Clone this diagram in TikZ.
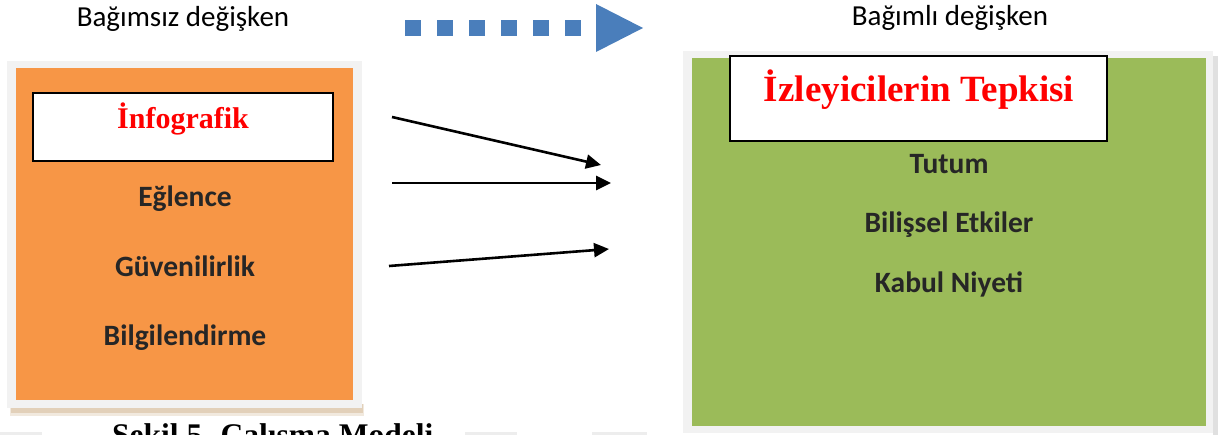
\documentclass[tikz,border=0pt]{standalone}
\usepackage{fontspec}
\usetikzlibrary{arrows.meta}
\newfontfamily\calib{Carlito}
\newfontfamily\timesf{Liberation Serif}
\definecolor{orangefill}{HTML}{F79646}
\definecolor{greenfill}{HTML}{9BBB59}
\definecolor{bluearrow}{HTML}{4A7EBB}
\definecolor{framegray}{HTML}{F2F2F2}
\definecolor{textdark}{HTML}{262626}
\definecolor{titlered}{HTML}{FF0000}
\definecolor{tanshadow}{HTML}{D8BFA0}
\tikzset{
  x=1pt, y=-1pt,
  frame/.style={fill=framegray, draw=none},
  item/.style={font=\calib\bfseries\fontsize{29.5}{33}\selectfont, text=textdark, anchor=base, inner sep=0pt},
  varlabel/.style={font=\calib\fontsize{29}{33}\selectfont, text=black, anchor=base, inner sep=0pt},
  headtext/.style={text=titlered, anchor=base, inner sep=0pt},
  link/.style={line width=2.6pt, -{Triangle[length=15pt,width=14pt]}},
  dotsq/.style={fill=bluearrow, draw=none},
  smudge/.style={fill=black!7, draw=none}
}
\begin{document}
\begin{tikzpicture}
\useasboundingbox (0,0) rectangle (1229,435);

% variable labels
\node[varlabel] (indep) at (183,27) {Bağımsız değişken};
\node[varlabel] (dep) at (950,26) {Bağımlı değişken};

% blue dotted direction arrow
\foreach \k in {0,...,5}
  \fill[dotsq] (405+32*\k,20) rectangle (421+32*\k,36);
\fill[bluearrow] (596,4) -- (643,28) -- (596,52) -- cycle;

% left box: independent variable
\fill[tanshadow, opacity=0.35] (10,404) rectangle (364,416);
\fill[tanshadow, opacity=0.6] (11,404) rectangle (363,413);
\fill[frame] (7,61) rectangle (362,408);
\fill[orangefill] (16,68) rectangle (353,400);
\draw[line width=1.3pt, fill=white] (33,93) rectangle (333,161);
\node[headtext, font=\timesf\bfseries\fontsize{30}{34}\selectfont] (info) at (183,129) {İnfografik};
\node[item] (eg) at (185,207) {Eğlence};
\node[item] (gu) at (185,277) {Güvenilirlik};
\node[item] (bi) at (185,346) {Bilgilendirme};

% right box: dependent variable
\fill[black!35, opacity=0.35] (1213,56) rectangle (1218,435);
\fill[frame] (683,51) rectangle (1213,433);
\fill[greenfill] (692,58) rectangle (1206,426);
\draw[line width=2pt, fill=white] (730,56) rectangle (1107,141);
\node[headtext, font=\timesf\bfseries\fontsize{37}{41}\selectfont] (tepki) at (919,102) {İzleyicilerin Tepkisi};
\node[item] (tu) at (949,174) {Tutum};
\node[item] (be) at (949,233) {Bilişsel Etkiler};
\node[item] (kn) at (949,293) {Kabul Niyeti};

% connectors between the two boxes
\coordinate (s1) at (392,117);
\coordinate (t1) at (601,165);
\coordinate (s2) at (392,183);
\coordinate (t2) at (611,183);
\coordinate (s3) at (389,266);
\coordinate (t3) at (609,249);
\draw[link] (s1) -- (t1);
\draw[link] (s2) -- (t2);
\draw[link] (s3) -- (t3);

% faint marks along the lower edge
\fill[smudge] (0,432) rectangle (42,435);
\fill[smudge] (465,432) rectangle (517,435);
\fill[smudge] (592,432) rectangle (647,435);

% caption, running off the lower edge
\node[anchor=base west, inner sep=0pt, font=\timesf\bfseries\fontsize{31.5}{35}\selectfont] (cap) at (112,446) {Şekil 5. Çalışma Modeli};
\end{tikzpicture}
\end{document}
